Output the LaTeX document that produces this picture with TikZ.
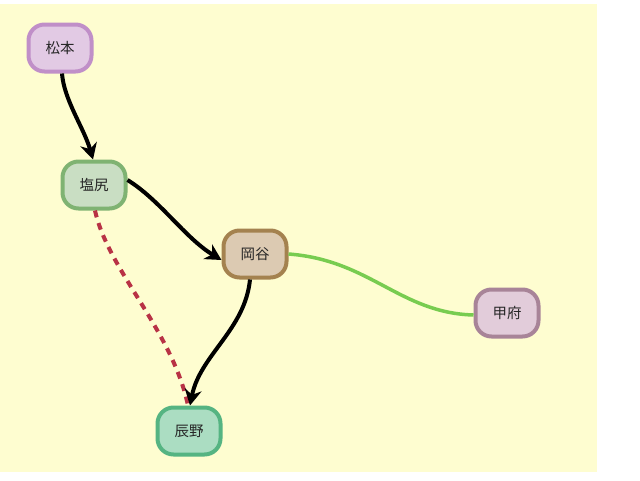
\documentclass[tikz,border=0pt]{standalone}
\usepackage{fontspec}
\newfontfamily\jp{Noto Sans CJK JP}
\usetikzlibrary{arrows.meta}
\definecolor{bgy}{HTML}{FEFDD0}
\definecolor{pF}{HTML}{E2CAE4}\definecolor{pD}{HTML}{C08FC8}
\definecolor{gF}{HTML}{C9DEC3}\definecolor{gD}{HTML}{7FB372}
\definecolor{bF}{HTML}{DCCAB2}\definecolor{bD}{HTML}{A4824F}
\definecolor{mF}{HTML}{E2CCDA}\definecolor{mD}{HTML}{A88498}
\definecolor{tF}{HTML}{ABDDC2}\definecolor{tD}{HTML}{55B482}
\definecolor{lineG}{HTML}{78CC50}
\definecolor{lineR}{HTML}{B83245}
\tikzset{
  city/.style={draw, rounded corners=16pt, line width=4pt, minimum width=63pt, minimum height=47pt, inner sep=0pt, font=\jp\fontsize{14.5}{16}\selectfont, text=black!85},
  trip/.style={line width=4pt, black, -{Stealth[length=16pt,width=17pt]}},
}
\begin{document}
\begin{tikzpicture}[x=1pt,y=-1pt]
\useasboundingbox (0,0) rectangle (640,480);
\fill[white] (0,0) rectangle (640,480);
\fill[bgy] (0,4) rectangle (597,472);
\node[city, fill=pF, draw=pD] (matsu) at (60,48) {松本};
\node[city, fill=gF, draw=gD] (shio) at (94,185) {塩尻};
\node[city, fill=bF, draw=bD] (oka) at (255,254) {岡谷};
\node[city, fill=mF, draw=mD] (kofu) at (507,313) {甲府};
\node[city, fill=tF, draw=tD] (tatsu) at (189,431) {辰野};
\draw[lineR, line width=4pt, dash pattern=on 7pt off 6pt] ([xshift=1pt]shio.south) .. controls (108,270) and (172,330) .. ([xshift=-1pt]tatsu.north);
\draw[trip] ([xshift=2pt]matsu.south) .. controls (64,100) and (84,128) .. ([xshift=-1pt]shio.north);
\draw[trip] ([yshift=5pt]shio.east) .. controls (160,200) and (185,238) .. ([yshift=-6pt]oka.west);
\draw[trip] ([xshift=-5pt]oka.south) .. controls (245,330) and (200,355) .. ([xshift=1pt]tatsu.north);
\draw[lineG, line width=3.5pt] (oka.east) .. controls (370,260) and (400,313) .. ([yshift=-2pt]kofu.west);
\end{tikzpicture}
\end{document}
